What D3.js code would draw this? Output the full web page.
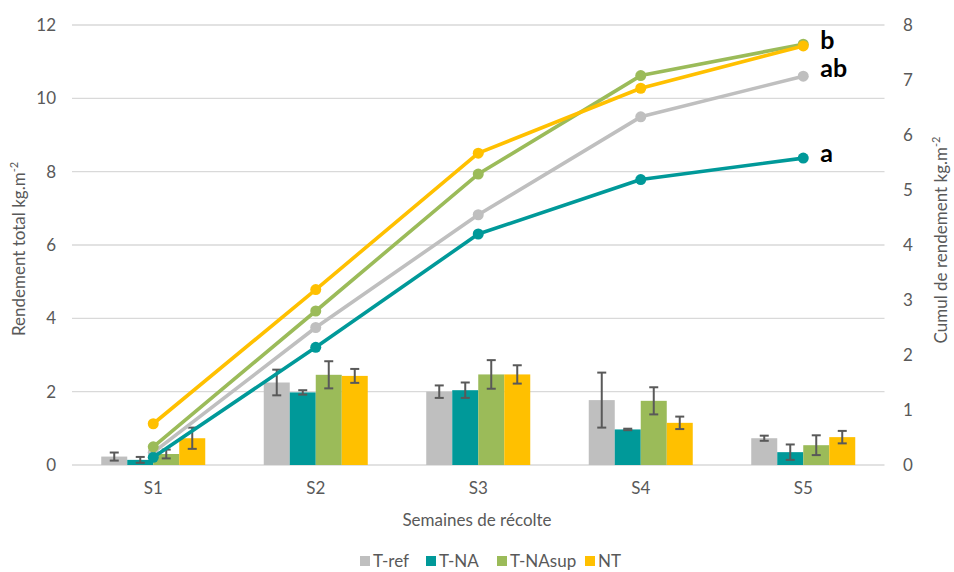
<!DOCTYPE html>
<html><head><meta charset="utf-8">
<script src="https://cdn.jsdelivr.net/npm/d3@7"></script>
<style>body{margin:0;background:#fff;} text{font-family:Lato,"Open Sans",sans-serif;}</style>
</head><body><svg id="c" width="954" height="572"></svg>
<script>
const categories = ["S1","S2","S3","S4","S5"];
const seriesNames = ["T-ref","T-NA","T-NAsup","NT"];
const colors = ["#BFBFBF","#009999","#9BBB59","#FFC000"];
// weekly yield (left axis)
const barTref    = [0.23, 2.25, 2.00, 1.77, 0.73];
const barTNA     = [0.14, 1.98, 2.04, 0.97, 0.35];
const barTNAsup  = [0.30, 2.46, 2.47, 1.75, 0.54];
const barNT      = [0.73, 2.43, 2.47, 1.15, 0.76];
// error (+/-)
const errTref    = [0.11, 0.35, 0.17, 0.75, 0.07];
const errTNA     = [0.08, 0.06, 0.21, 0.02, 0.21];
const errTNAsup  = [0.12, 0.37, 0.39, 0.37, 0.27];
const errNT      = [0.29, 0.19, 0.25, 0.17, 0.17];
// cumulative yield (right axis)
const cumTref    = [0.23, 2.50, 4.55, 6.33, 7.07];
const cumTNA     = [0.14, 2.14, 4.20, 5.19, 5.58];
const cumTNAsup  = [0.33, 2.80, 5.29, 7.08, 7.65];
const cumNT      = [0.75, 3.19, 5.67, 6.85, 7.62];
const leftTicks = [0,2,4,6,8,10,12];
const rightTicks = [0,1,2,3,4,5,6,7,8];
const letters = [{s:"T-NAsup", t:"b"},{s:"T-ref", t:"ab"},{s:"T-NA", t:"a"}];

const bars = [barTref, barTNA, barTNAsup, barNT];
const errs = [errTref, errTNA, errTNAsup, errNT];
const cums = [cumTref, cumTNA, cumTNAsup, cumNT];

const svg = d3.select("#c");
const L = 72, R = 884.5, T = 25, B = 465;
const x = d3.scaleBand().domain(categories).range([L,R]).paddingInner(0.36).paddingOuter(0.18);
const xs = d3.scaleBand().domain(seriesNames).range([0, x.bandwidth()]);
const yL = d3.scaleLinear().domain([0,12]).range([B,T]);
const yR = d3.scaleLinear().domain([0,8]).range([B,T]);
const cx = c => x(c) + x.bandwidth()/2;
const FS = 17, TC = "#595959";

// gridlines
svg.append("g").selectAll("line").data(leftTicks).join("line")
  .attr("x1",L).attr("x2",R).attr("y1",d=>yL(d)).attr("y2",d=>yL(d))
  .attr("stroke","#D9D9D9").attr("stroke-width",1.3);

// axis labels
svg.append("g").selectAll("text").data(leftTicks).join("text")
  .attr("x",56).attr("y",d=>yL(d)).attr("dy","0.35em").attr("text-anchor","end")
  .attr("font-size",FS).attr("fill",TC).text(d=>d);
svg.append("g").selectAll("text").data(rightTicks).join("text")
  .attr("x",903).attr("y",d=>yR(d)).attr("dy","0.35em").attr("text-anchor","start")
  .attr("font-size",FS).attr("fill",TC).text(d=>d);

// x labels
svg.append("g").selectAll("text").data(categories).join("text")
  .attr("x",d=>cx(d)).attr("y",494).attr("text-anchor","middle")
  .attr("font-size",FS).attr("fill",TC).text(d=>d);

// bars
seriesNames.forEach((s,i)=>{
  svg.append("g").selectAll("rect").data(categories).join("rect")
    .attr("x",c=>x(c)+xs(s)).attr("width",xs.bandwidth())
    .attr("y",(c,j)=>yL(bars[i][j])).attr("height",(c,j)=>B-yL(bars[i][j]))
    .attr("fill",colors[i]);
});
// error bars
seriesNames.forEach((s,i)=>{
  const g = svg.append("g").attr("stroke","#595959").attr("stroke-width",2);
  categories.forEach((c,j)=>{
    const xc = x(c)+xs(s)+xs.bandwidth()/2;
    const hi = yL(bars[i][j]+errs[i][j]), lo = yL(Math.max(0,bars[i][j]-errs[i][j]));
    g.append("line").attr("x1",xc).attr("x2",xc).attr("y1",hi).attr("y2",lo);
    g.append("line").attr("x1",xc-4.5).attr("x2",xc+4.5).attr("y1",hi).attr("y2",hi);
    g.append("line").attr("x1",xc-4.5).attr("x2",xc+4.5).attr("y1",lo).attr("y2",lo);
  });
});

// lines
const line = d3.line().x(d=>cx(d.c)).y(d=>yR(d.v));
seriesNames.forEach((s,i)=>{
  const data = categories.map((c,j)=>({c, v:cums[i][j]}));
  const g = svg.append("g");
  g.append("path").datum(data).attr("d",line).attr("fill","none")
    .attr("stroke",colors[i]).attr("stroke-width",3.6).attr("stroke-linejoin","round");
  g.selectAll("circle").data(data).join("circle")
    .attr("cx",d=>cx(d.c)).attr("cy",d=>yR(d.v)).attr("r",5.5).attr("fill",colors[i]);
});

// significance letters
const letterY = {"T-NAsup":-4, "T-ref":-8, "T-NA":-5};
letters.forEach(l=>{
  const i = seriesNames.indexOf(l.s);
  const v = cums[i][4];
  svg.append("text").attr("x",cx("S5")+17).attr("y",yR(v)+letterY[l.s])
    .attr("dy","0.35em").attr("font-size",25).attr("font-weight","bold").attr("fill","#000")
    .text(l.t);
});

// axis titles
const lt = svg.append("text").attr("transform","translate(25,249) rotate(-90)")
  .attr("text-anchor","middle").attr("font-size",FS).attr("fill",TC);
lt.append("tspan").text("Rendement total kg.m");
lt.append("tspan").attr("font-size",11).attr("dy",-7).text("-2");
const rt = svg.append("text").attr("transform","translate(947,240) rotate(-90)")
  .attr("text-anchor","middle").attr("font-size",FS).attr("fill",TC);
rt.append("tspan").text("Cumul de rendement  kg.m");
rt.append("tspan").attr("font-size",11).attr("dy",-7).text("-2");
svg.append("text").attr("x",477).attr("y",526).attr("text-anchor","middle")
  .attr("font-size",FS).attr("fill",TC).text("Semaines de récolte");

// legend
const legX = [360, 426, 497, 585];
const lg = svg.append("g");
seriesNames.forEach((s,i)=>{
  lg.append("rect").attr("x",legX[i]).attr("y",556).attr("width",10).attr("height",10).attr("fill",colors[i]);
  lg.append("text").attr("x",legX[i]+13).attr("y",561).attr("dy","0.35em")
    .attr("font-size",FS).attr("fill",TC).text(s);
});
</script></body></html>
